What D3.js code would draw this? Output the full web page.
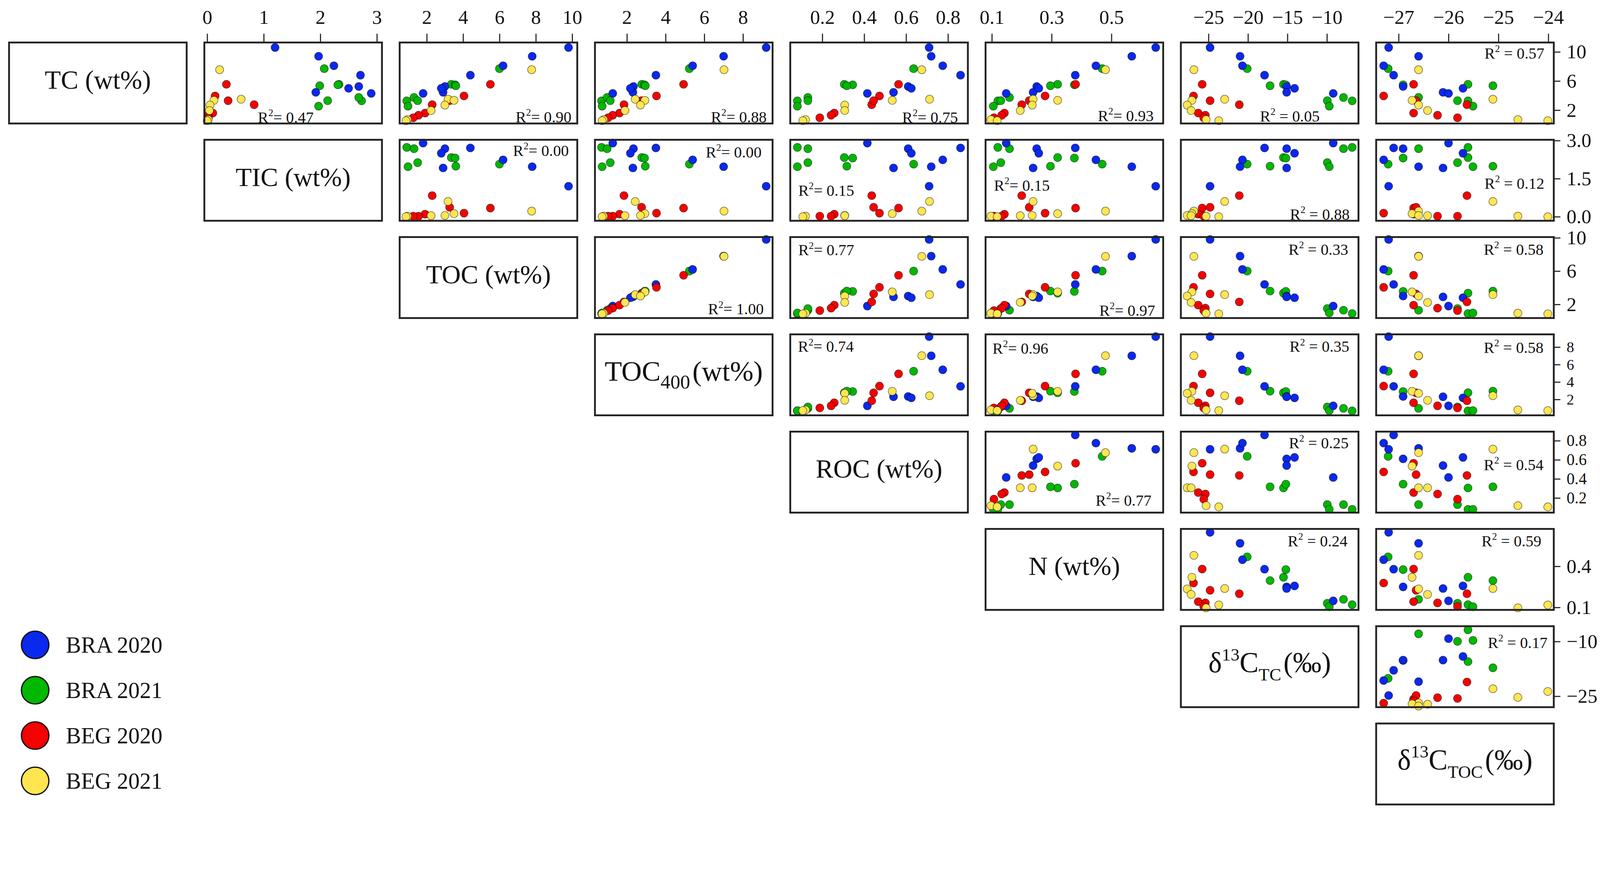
<!DOCTYPE html>
<html lang="en">
<head>
<meta charset="UTF-8">
<title>Scatter plot matrix – BRA / BEG</title>
<script src="https://d3js.org/d3.v7.min.js"></script>
<style>
  html, body { margin: 0; padding: 0; background: #fff; overflow: hidden; }
  #chart { width: 100vw; height: 100vh; }
  svg { display: block; width: 100%; height: 100%; font-family: "Liberation Serif", "Times New Roman", serif; }
  text { fill: #111; }
</style>
</head>
<body>
<div id="chart"></div>
<script>
// groups (legend)
const groupNames = ["BRA 2020", "BRA 2021", "BEG 2020", "BEG 2021"];
const groupColors = ["#0A28EE", "#00B800", "#F60000", "#FFE650"];

// one entry per sample: group index
const sampleGroup = [0,0,0,0,0,0,0,0, 1,1,1,1,1,1,1,1, 2,2,2,2,2,2,2, 3,3,3,3,3,3,3];

// measured variables, same sample order
const TC      = [10.6, 9.4, 8.1, 6.8, 5.25, 4.45, 4.3, 5.0,  7.7, 5.55, 5.48, 5.35, 3.28, 3.74, 3.3, 2.55,  5.55, 3.95, 2.75, 3.3, 1.6, 1.3, 0.95,  7.55, 3.5, 3.35, 2.7, 1.95, 0.7, 0.55];
const TIC     = [1.2, 1.97, 2.24, 2.71, 2.68, 1.92, 2.9, 2.5,  2.07, 2.33, 2.31, 1.99, 2.73, 2.68, 2.13, 1.97,  0.34, 0.14, 0.83, 0.37, 0.1, 0.02, 0.02,  0.22, 0.6, 0.12, 0.05, 0.04, 0.02, 0.0];
const TOC     = [9.8, 7.8, 6.2, 4.4, 3.0, 2.9, 1.8, 2.8,  6.0, 3.35, 3.56, 3.6, 0.9, 1.3, 1.5, 0.97,  5.5, 4.05, 2.3, 3.26, 1.91, 1.55, 1.26,  7.77, 3.17, 3.5, 3.0, 2.24, 0.94, 0.86];
const TOC400  = [9.2, 7.0, 5.4, 3.5, 2.34, 2.31, 1.27, 2.18,  5.23, 2.77, 2.91, 2.95, 0.69, 0.98, 1.14, 0.72,  4.93, 3.53, 1.85, 2.76, 1.62, 1.27, 1.03,  7.02, 2.43, 2.93, 2.7, 1.9, 0.8, 0.72];
const ROC     = [0.71, 0.72, 0.775, 0.86, 0.61, 0.54, 0.415, 0.625,  0.636, 0.305, 0.345, 0.317, 0.081, 0.131, 0.131, 0.081,  0.564, 0.473, 0.436, 0.445, 0.257, 0.242, 0.188,  0.675, 0.712, 0.534, 0.307, 0.307, 0.12, 0.107];
const N       = [0.648, 0.568, 0.448, 0.379, 0.25, 0.238, 0.148, 0.257,  0.469, 0.32, 0.376, 0.296, 0.12, 0.159, 0.13, 0.105,  0.38, 0.278, 0.2, 0.225, 0.142, 0.133, 0.107,  0.48, 0.238, 0.32, 0.235, 0.195, 0.097, 0.118];
const d13C_TC = [-24.8, -21.0, -20.7, -17.9, -15.1, -15.1, -9.2, -14.1,  -20.1, -15.5, -15.2, -17.2, -6.8, -7.9, -9.95, -9.7,  -25.8, -26.9, -21.1, -24.8, -26.3, -25.4, -25.6,  -26.85, -22.95, -27.1, -27.7, -27.2, -25.3, -23.7];
const d13C_TOC = [-27.2, -26.6, -27.3, -27.1, -26.91, -26.11, -26.0, -25.71,  -27.21, -25.61, -26.91, -25.11, -25.61, -26.6, -25.82, -25.51,  -26.7, -27.3, -25.63, -26.65, -26.7, -26.22, -25.82,  -26.6, -25.11, -26.73, -26.6, -26.42, -24.61, -24.01];

// R² per panel, row by row (row = y variable, columns to the right)
const r2Rows = [
  [0.47, 0.90, 0.88, 0.75, 0.93, 0.05, 0.57],
  [0.00, 0.00, 0.15, 0.15, 0.88, 0.12],
  [1.00, 0.77, 0.97, 0.33, 0.58],
  [0.74, 0.96, 0.35, 0.58],
  [0.77, 0.25, 0.54],
  [0.24, 0.59],
  [0.17]
];

// tick labels: top axis per column variable (1..7), right axis per row variable (0..6)
const topTicks = [[0, 1, 2, 3], [2, 4, 6, 8, 10], [2, 4, 6, 8], [0.2, 0.4, 0.6, 0.8], [0.1, 0.3, 0.5], [-25, -20, -15, -10], [-27, -26, -25, -24]];
const rightTicks = [[2, 6, 10], [0, 1.5, 3], [2, 6, 10], [2, 4, 6, 8], [0.2, 0.4, 0.6, 0.8], [0.1, 0.4], [-25, -10]];
const topFormats = ["d", "d", "d", ".1f", ".1f", "d", "d"];
const rightFormats = ["d", ".1f", "d", "d", ".1f", ".1f", "d"];

const vars = [TC, TIC, TOC, TOC400, ROC, N, d13C_TC, d13C_TOC];

// ---- layout ----
const W = 4369, H = 2226;
const PW = 485, PH = 221;
const colLeft = j => 558 + 533.3 * (j - 1);
const rowTop = i => 116 + 265.5 * i;

// axis ranges (x for columns, y for rows)
const xDomains = [null, [-0.05, 3.09], [0.51, 10.28], [0.35, 9.53], [0.047, 0.895], [0.079, 0.673], [-28.5, -6.0], [-27.45, -23.89]];
const yDomains = [[0.17, 11.29], [-0.16, 3.03], [0.36, 10.09], [0.18, 9.46], [0.047, 0.895], [0.082, 0.673], [-28.0, -5.8]];

const xScales = xDomains.map(d => d ? d3.scaleLinear().domain(d).range([0, PW]) : null);
const yScales = yDomains.map(d => d3.scaleLinear().domain(d).range([PH, 0]));

// right tick label size per row (crowded rows get smaller text)
const rightFont = [54, 54, 54, 41, 44, 54, 54];

// where the R² text sits in each panel: [anchor, x offset, baseline]
const r2Place = {
  "0-1": ["start", 146, 219], "0-2": ["end", -16, 218], "0-3": ["end", -16, 218], "0-4": ["end", -27, 219],
  "0-5": ["end", -26, 215], "0-6": ["start", 216, 216], "0-7": ["end", -26, 44],
  "1-2": ["end", -23, 44], "1-3": ["end", -30, 48], "1-4": ["start", 22, 153], "1-5": ["start", 23, 139],
  "1-6": ["end", -24, 218], "1-7": ["end", -26, 134],
  "2-3": ["end", -24, 211], "2-4": ["start", 22, 50], "2-5": ["end", -22, 215], "2-6": ["end", -28, 48], "2-7": ["end", -28, 48],
  "3-4": ["start", 21, 48], "3-5": ["start", 19, 53], "3-6": ["end", -25, 48], "3-7": ["end", -28, 51],
  "4-5": ["end", -32, 202], "4-6": ["end", -27, 45], "4-7": ["end", -28, 105],
  "5-6": ["end", -30, 48], "5-7": ["end", -34, 48],
  "6-7": ["end", -17, 59]
};

// diagonal label boxes
const labelParts = [
  [["TC (wt%)", "n"]],
  [["TIC (wt%)", "n"]],
  [["TOC (wt%)", "n"]],
  [["TOC", "n"], ["400", "sub"], ["(wt%)", "n"]],
  [["ROC (wt%)", "n"]],
  [["N (wt%)", "n"]],
  [["δ", "n"], ["13", "sup"], ["C", "n"], ["TC", "sub"], ["(‰)", "n"]],
  [["δ", "n"], ["13", "sup"], ["C", "n"], ["TOC", "sub"], ["(‰)", "n"]]
];
const labelSize = [72, 72, 72, 77, 72, 72, 78, 78];

const samples = sampleGroup.map((g, k) => ({ g, v: vars.map(a => a[k]) }));
const drawOrder = [1, 0, 2, 3];
const ordered = drawOrder.flatMap(g => samples.filter(s => s.g === g));

const svg = d3.select("#chart").append("svg")
  .attr("viewBox", `0 0 ${W} ${H}`)
  .attr("preserveAspectRatio", "xMidYMin meet");
svg.append("rect").attr("width", W).attr("height", H).attr("fill", "#fff");

function styleAxis(sel, size) {
  sel.select(".domain").remove();
  sel.selectAll(".tick line").attr("stroke", "#222").attr("stroke-width", 3);
  sel.selectAll(".tick text")
    .attr("font-family", "Liberation Serif, Times New Roman, serif")
    .attr("font-size", size).attr("fill", "#111");
  sel.attr("font-family", null).attr("font-size", null);
}

// scatter panels
for (let i = 0; i < 7; i++) {
  for (let j = i + 1; j < 8; j++) {
    const x = xScales[j], y = yScales[i];
    const g = svg.append("g").attr("transform", `translate(${colLeft(j)},${rowTop(i)})`);

    g.selectAll("circle")
      .data(ordered)
      .join("circle")
      .attr("cx", d => x(d.v[j]))
      .attr("cy", d => y(d.v[i]))
      .attr("r", 11)
      .attr("fill", d => groupColors[d.g])
      .attr("stroke", "rgba(0,0,0,0.55)")
      .attr("stroke-width", 1.6);

    g.append("rect")
      .attr("width", PW).attr("height", PH)
      .attr("fill", "none").attr("stroke", "#222").attr("stroke-width", 5);

    const [anchor, ox, by] = r2Place[`${i}-${j}`];
    const t = g.append("text")
      .attr("x", anchor === "end" ? PW + ox : ox)
      .attr("y", by)
      .attr("text-anchor", anchor)
      .attr("font-size", 43);
    t.append("tspan").text("R");
    t.append("tspan").attr("font-size", 27).attr("dy", -18).text("2");
    t.append("tspan").attr("dy", 18)
      .text((j >= 6 ? " = " : "= ") + d3.format(".2f")(r2Rows[i][j - i - 1]));

    if (i === 0) {
      g.append("g")
        .call(d3.axisTop(x).tickValues(topTicks[j - 1]).tickFormat(d3.format(topFormats[j - 1]))
          .tickSize(24).tickPadding(27))
        .call(styleAxis, 54);
    }
    if (j === 7) {
      g.append("g")
        .attr("transform", `translate(${PW},0)`)
        .call(d3.axisRight(y).tickValues(rightTicks[i]).tickFormat(d3.format(rightFormats[i]))
          .tickSize(18).tickPadding(17))
        .call(styleAxis, rightFont[i]);
    }
  }
}

// variable name boxes on the diagonal
labelParts.forEach((parts, v) => {
  const left = v === 0 ? colLeft(1) - 533.3 : colLeft(v);
  const g = svg.append("g").attr("transform", `translate(${left},${rowTop(v)})`);
  g.append("rect")
    .attr("width", PW).attr("height", PH)
    .attr("fill", "none").attr("stroke", "#222").attr("stroke-width", 5);
  const fs = labelSize[v];
  const t = g.append("text")
    .attr("x", PW / 2).attr("y", PH * 0.57)
    .attr("text-anchor", "middle")
    .attr("font-size", fs);
  let shift = 0;
  parts.forEach(([txt, kind]) => {
    let target = 0, size = fs;
    if (kind === "sub") { target = 0.28 * fs; size = (v === 3 ? 0.7 : 0.62) * fs; }
    if (kind === "sup") { target = -0.42 * fs; size = 0.62 * fs; }
    t.append("tspan")
      .attr("font-size", size)
      .attr("dy", target - shift)
      .attr("dx", kind === "n" && txt.startsWith("(") && parts.length > 1 ? 6 : 0)
      .text(txt);
    shift = target;
  });
});

// legend
const legend = svg.append("g").attr("transform", "translate(96,1760)");
groupNames.forEach((name, k) => {
  const row = legend.append("g").attr("transform", `translate(0,${k * 123.7})`);
  row.append("circle")
    .attr("r", 37.5)
    .attr("fill", groupColors[k])
    .attr("stroke", "#111").attr("stroke-width", 3.5);
  row.append("text")
    .attr("x", 84).attr("y", 21)
    .attr("font-size", 62)
    .text(name);
});
</script>
</body>
</html>
